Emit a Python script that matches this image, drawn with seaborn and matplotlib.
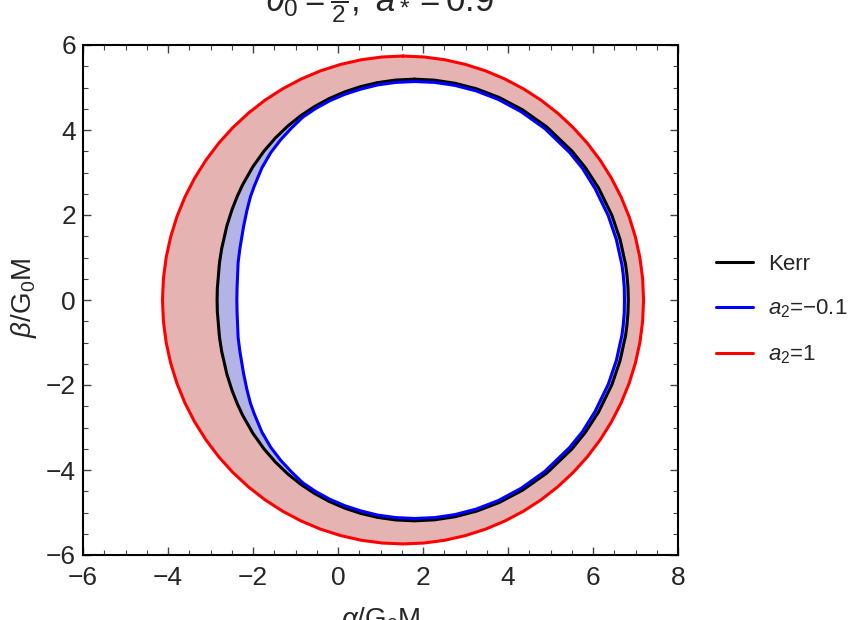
import numpy as np
import pandas as pd
import matplotlib
matplotlib.use('Agg')
import matplotlib.pyplot as plt
from matplotlib.ticker import MultipleLocator
import seaborn as sns

# === SHADOW BOUNDARIES (upper half, beta >= 0, left edge -> top -> right edge) ===
KERR_ALPHA = [-2.845, -2.839, -2.788, -2.737, -2.614, -2.492, -2.371, -2.250, -2.003,
              -1.744, -1.473, -1.185, -0.880, -0.557, -0.215, 0.147, 0.529, 0.932,
              1.356, 1.800, 2.266, 2.753, 3.261, 3.791, 4.342, 4.915, 5.510, 5.816,
              6.127, 6.444, 6.636, 6.766, 6.798, 6.823, 6.831]
KERR_BETA = [0.0, 0.279, 0.885, 1.209, 1.748, 2.131, 2.439, 2.700, 3.136,
             3.500, 3.813, 4.090, 4.334, 4.549, 4.735, 4.893, 5.020, 5.115,
             5.175, 5.196, 5.173, 5.100, 4.968, 4.766, 4.475, 4.070, 3.499, 3.120,
             2.642, 1.994, 1.430, 0.840, 0.603, 0.300, 0.0]

BLUE_ALPHA = [-2.38, -2.375, -2.35, -2.31, -2.22, -2.14, -2.06, -1.97, -1.79,
              -1.58, -1.35, -1.10, -0.83, -0.52, -0.19, 0.16, 0.53, 0.93,
              1.36, 1.80, 2.27, 2.75, 3.25, 3.77, 4.31, 4.87, 5.45, 5.75,
              6.05, 6.36, 6.55, 6.68, 6.71, 6.735, 6.74]
BLUE_BETA = [0.0, 0.28, 0.88, 1.20, 1.74, 2.12, 2.43, 2.68, 3.11,
             3.47, 3.77, 4.04, 4.30, 4.51, 4.69, 4.84, 4.96, 5.06,
             5.12, 5.14, 5.12, 5.05, 4.92, 4.72, 4.43, 4.03, 3.47, 3.10,
             2.62, 1.98, 1.42, 0.83, 0.60, 0.30, 0.0]

RED_ALPHA = [-4.130, -4.108, -4.044, -3.937, -3.789, -3.600, -3.372, -3.107, -2.806,
             -2.472, -2.108, -1.717, -1.300, -0.862, -0.406, 0.065, 0.547, 1.036,
             1.530, 2.024, 2.513, 2.995, 3.466, 3.922, 4.360, 4.777, 5.168, 5.532,
             5.866, 6.167, 6.432, 6.660, 6.849, 6.997, 7.104, 7.168, 7.190]
RED_BETA = [0.0, 0.500, 0.997, 1.486, 1.963, 2.426, 2.870, 3.292, 3.690,
            4.059, 4.397, 4.702, 4.971, 5.202, 5.394, 5.544, 5.653, 5.718,
            5.740, 5.718, 5.653, 5.544, 5.394, 5.202, 4.971, 4.702, 4.397, 4.059,
            3.690, 3.292, 2.870, 2.426, 1.963, 1.486, 0.997, 0.500, 0.0]

LABELS = ['Kerr', r'$a_2$=−0.1', r'$a_2$=1']
COLORS = ['black', '#0000ff', '#ff0000']
FILL_RED = '#e6b3b3'
FILL_BLUE = '#b3b3e6'


def closed_curve(alpha, beta):
    # mirror the upper half to close the shadow (shadow is symmetric in beta),
    # then start the path at the top so the seam is not on the beta = 0 edge
    a = list(alpha) + list(alpha[-2:0:-1])
    b = list(beta) + [-v for v in beta[-2:0:-1]]
    k = int(np.argmax(b))
    a = a[k:] + a[:k] + [a[k]]
    b = b[k:] + b[:k] + [b[k]]
    return a, b


curves = {
    LABELS[0]: closed_curve(KERR_ALPHA, KERR_BETA),
    LABELS[1]: closed_curve(BLUE_ALPHA, BLUE_BETA),
    LABELS[2]: closed_curve(RED_ALPHA, RED_BETA),
}

rows = []
for name, (a, b) in curves.items():
    for i, (x, y) in enumerate(zip(a, b)):
        rows.append({'curve': name, 'idx': i, 'alpha': x, 'beta': y})
df = pd.DataFrame(rows)

# === STYLE ===
sns.set_theme(style="ticks")
plt.rcParams['font.family'] = ['Liberation Sans', 'DejaVu Sans']
plt.rcParams['mathtext.fontset'] = 'custom'
plt.rcParams['mathtext.rm'] = 'Liberation Sans'
plt.rcParams['mathtext.it'] = 'Liberation Sans:italic'

fig = plt.figure(figsize=(8.65, 6.2), dpi=100)
ax = fig.add_axes([83 / 865, 65 / 620, 595 / 865, 510 / 620])

# filled bands
ra, rb = curves[LABELS[2]]
ka, kb = curves[LABELS[0]]
ba, bb = curves[LABELS[1]]
ax.fill(ra, rb, color=FILL_RED, lw=0, zorder=1)
ax.fill(ka, kb, color=FILL_BLUE, lw=0, zorder=1)
ax.fill(ba, bb, color='white', lw=0, zorder=1)

sns.lineplot(data=df, x='alpha', y='beta', hue='curve', hue_order=LABELS,
             palette=COLORS, sort=False, estimator=None, linewidth=2.2,
             solid_joinstyle='round', solid_capstyle='round', ax=ax, zorder=3)

ax.set_xlim(-6, 8)
ax.set_ylim(-6, 6)
ax.set_aspect('equal')
ax.xaxis.set_major_locator(MultipleLocator(2))
ax.yaxis.set_major_locator(MultipleLocator(2))
ax.xaxis.set_minor_locator(MultipleLocator(0.5))
ax.yaxis.set_minor_locator(MultipleLocator(0.5))
ax.tick_params(which='both', direction='in', top=True, right=True,
               color='#444444', labelsize=19)
ax.tick_params(which='major', length=6, width=1.0)
ax.tick_params(which='minor', length=3.5, width=0.8)
ax.tick_params(axis='x', which='major', pad=8)
ax.tick_params(axis='y', which='major', pad=5)
ax.set_xticklabels([f"{int(v)}".replace('-', '−') for v in ax.get_xticks()])
ax.set_yticklabels([f"{int(v)}".replace('-', '−') for v in ax.get_yticks()])
for s in ax.spines.values():
    s.set_linewidth(1.5)
    s.set_color('black')

ax.set_xlabel('')
ax.set_ylabel('')
fig.text(381 / 865, 1 - 606 / 620, r'$\alpha$/G$_0$M', ha='center', va='top', fontsize=20)
fig.text(24 / 865, 1 - 298 / 620, r'$\beta$/G$_0$M', ha='center', va='center',
         rotation=90, fontsize=20)
fig.text(380 / 865, 1 - 11 / 620, r'$\theta_0=\frac{\pi}{2},\ a_*=0.9$',
         ha='center', va='baseline', fontsize=25)

ax.get_legend().remove()
handles = [plt.Line2D([], [], color=c, lw=2.2) for c in COLORS]
fig.legend(handles, LABELS, loc='center left', bbox_to_anchor=(716 / 865, 1 - 310 / 620),
           frameon=False, fontsize=16, handlelength=1.65, handletextpad=0.7,
           labelspacing=1.05, borderpad=0, borderaxespad=0)

fig.savefig('out.png', dpi=100)
